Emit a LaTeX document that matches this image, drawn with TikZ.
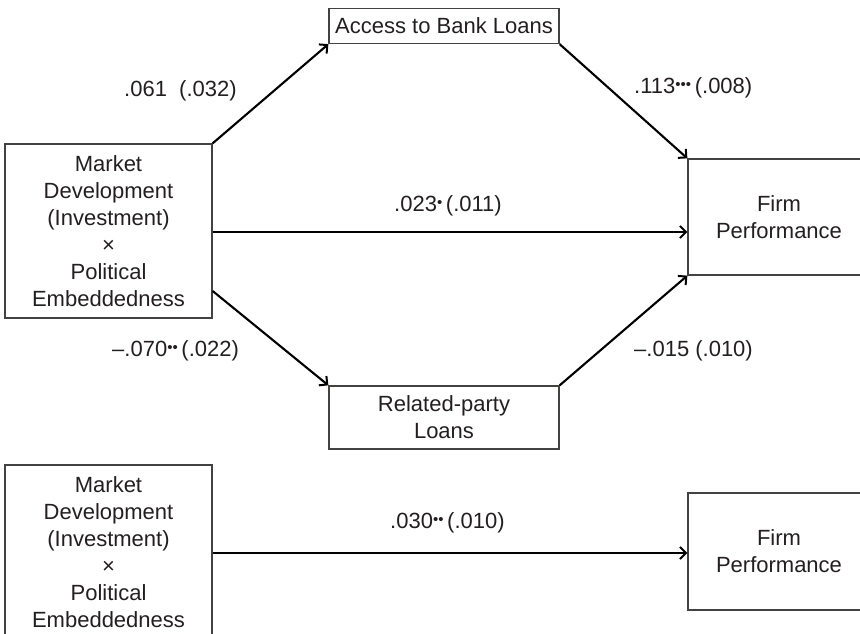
\documentclass[tikz,border=0pt]{standalone}
\usepackage{fontspec}
\setmainfont{Liberation Sans}
\usetikzlibrary{arrows.meta}
\definecolor{ink}{HTML}{231F20}
\newcommand{\sig}[1]{\raisebox{4.5pt}{\fontsize{15}{15}\selectfont #1}}
\begin{document}
\begin{tikzpicture}[x=1pt,y=-1pt,
  box/.style={draw=ink!85, line width=1.3pt, inner sep=0pt, align=center,
    font=\fontsize{22}{27}\selectfont, text=ink},
  lbl/.style={font=\fontsize{22}{27}\selectfont, text=ink, inner sep=0pt, anchor=west},
  arr/.style={line width=2.1pt, draw=black, -{Straight Barb[length=6pt,width=12pt,line width=2pt]}},
  ln/.style={line width=2.1pt, draw=black}]
\useasboundingbox (0,0) rectangle (860,634);
% nodes
\node[box, minimum width=230pt, minimum height=35pt] (access) at (444,26) {Access to Bank Loans};
\node[box, minimum width=207pt, minimum height=174pt] (left1) at (108.5,231) {Market\\Development\\(Investment)\\×\\Political\\Embeddedness};
\node[box, minimum width=182pt, minimum height=116pt] (firm1) at (779,217) {Firm\\Performance};
\node[box, minimum width=230pt, minimum height=63pt] (related) at (444,417.5) {Related-party\\Loans};
\node[box, minimum width=207pt, minimum height=174pt] (left2) at (108.5,552) {Market\\Development\\(Investment)\\×\\Political\\Embeddedness};
\node[box, minimum width=182pt, minimum height=117pt] (firm2) at (779,551.5) {Firm\\Performance};
% helper coordinates
\coordinate (l1mid) at (left1.east |- 0,232);
\coordinate (l1low) at (left1.east |- 0,291);
\coordinate (l2mid) at (left2.east |- 0,553);
% connectors
\draw[arr] (left1.north east) -- (access.south west);
\draw[arr] (access.south east) -- (firm1.north west);
\draw[arr] (l1mid) -- (l1mid -| firm1.west);
\draw[arr] (l1low) -- (related.north west);
\draw[arr] (related.north east) -- (firm1.south west);
\draw[arr] (l2mid) -- (l2mid -| firm2.west);
% labels
\node[lbl] (c1) at (124,91) {.061\ \ (.032)};
\node[lbl] (c2) at (634,88) {.113\sig{•••}\,(.008)};
\node[lbl] (c3) at (394,206) {.023\sig{•}\,(.011)};
\node[lbl] (c4) at (112,351) {–.070\sig{••}\,(.022)};
\node[lbl] (c5) at (634,351) {–.015 (.010)};
\node[lbl] (c6) at (390,523) {.030\sig{••}\,(.010)};
\end{tikzpicture}
\end{document}
